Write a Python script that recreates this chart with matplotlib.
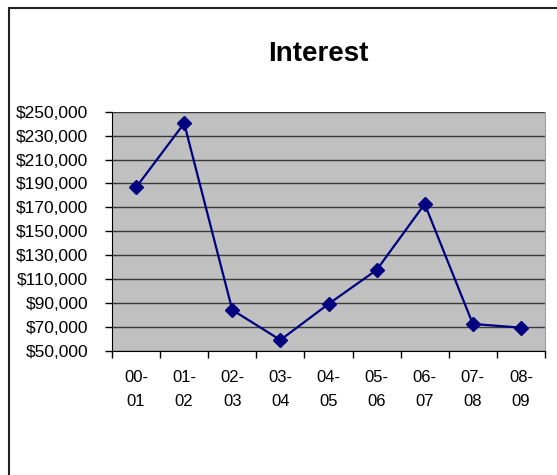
import matplotlib
matplotlib.use("Agg")
import matplotlib.pyplot as plt
from matplotlib.patches import Rectangle
from matplotlib.ticker import FuncFormatter, FixedLocator

categories = ["00-\n01", "01-\n02", "02-\n03", "03-\n04", "04-\n05", "05-\n06", "06-\n07", "07-\n08", "08-\n09"]
interest = [186700, 240300, 84300, 59200, 89300, 117700, 172900, 72600, 69500]
yticks = [50000, 70000, 90000, 110000, 130000, 150000, 170000, 190000, 210000, 230000, 250000]

plt.rcParams['font.family'] = ['Liberation Sans', 'DejaVu Sans']

W, H = 557, 475
fig = plt.figure(figsize=(W / 100, H / 100), dpi=100)
fig.patch.set_facecolor("white")

# outer chart border (left/top visible)
fig.add_artist(Rectangle((9 / W, -0.1), 1.2, 1 - 8 / H + 0.1, transform=fig.transFigure,
                         fill=False, edgecolor="#222222", linewidth=1.5))

ax = fig.add_axes([112 / W, 1 - 351 / H, (545 - 112) / W, (351 - 111.7) / H])
ax.set_facecolor("#C0C0C0")

x = list(range(len(categories)))
ax.plot(x, interest, color="#000080", linewidth=1.6, marker="D", markersize=7,
        markerfacecolor="#000080", markeredgecolor="#000080", zorder=3)

ax.set_xlim(-0.5, len(categories) - 0.5)
ax.set_ylim(50000, 250000)
ax.set_yticks(yticks)
ax.yaxis.set_major_formatter(FuncFormatter(lambda v, p: "${:,.0f}".format(v)))
ax.grid(axis="y", color="#3a3a3a", linewidth=1.0)
ax.set_axisbelow(True)

ax.xaxis.set_major_locator(FixedLocator([i - 0.5 for i in range(len(categories) + 1)]))
ax.set_xticklabels([])
ax.xaxis.set_minor_locator(FixedLocator(x))
ax.set_xticklabels(categories, minor=True)
ax.tick_params(axis="x", which="minor", length=0, pad=14, labelsize=12)
ax.tick_params(axis="x", which="major", length=5, width=1, color="black", direction="out")
ax.tick_params(axis="y", length=5, width=1, color="black", direction="out", labelsize=12.5, pad=12)
for lbl in ax.get_xticklabels(minor=True):
    lbl.set_linespacing(1.75)

ax.spines["left"].set_color("black")
ax.spines["bottom"].set_color("black")
ax.spines["top"].set_visible(False)
ax.spines["right"].set_color("#A0A0A0")

fig.text(318 / W, 1 - 54 / H, "Interest", ha="center", va="center",
         fontsize=20, fontweight="bold")

fig.savefig("out.png", dpi=100)
